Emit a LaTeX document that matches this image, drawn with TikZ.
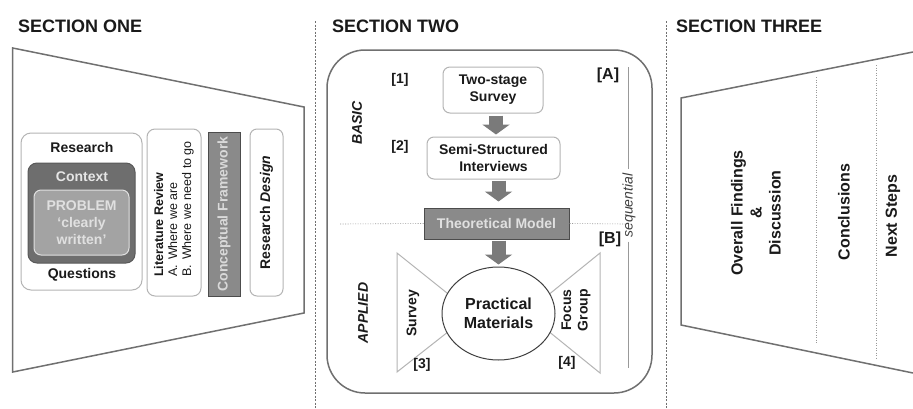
\documentclass[tikz,border=0pt]{standalone}
\usepackage{fontspec}
\setmainfont{Liberation Sans}
\usetikzlibrary{arrows.meta,shapes.geometric,calc}
\definecolor{edgegray}{HTML}{707070}
\definecolor{lightedge}{HTML}{B4B4B4}
\definecolor{txt}{HTML}{1A1A1A}
\definecolor{darkfill}{HTML}{6E6E6E}
\definecolor{midfill}{HTML}{8A8A8A}
\definecolor{probfill}{HTML}{A3A3A3}
\definecolor{arrowgray}{HTML}{7A7A7A}
\tikzset{
  title/.style={font=\fontsize{18}{21}\selectfont\bfseries, text=txt, inner sep=0pt, anchor=base west},
  bt/.style={font=\fontsize{14}{17}\selectfont\bfseries, text=txt, align=center, inner sep=0pt},
  bigt/.style={font=\fontsize{16}{19}\selectfont\bfseries, text=txt, align=center, inner sep=0pt},
  whitebox/.style={draw=lightedge, line width=1pt, fill=white, rounded corners=7pt, inner sep=0pt},
  graybox/.style={draw=black!70, line width=1pt, fill=midfill, inner sep=0pt},
  blockarrow/.style={draw=arrowgray, line width=14pt, -{Triangle[width=27pt,length=10pt]}},
  sep/.style={draw=edgegray, line width=0.8pt, dash pattern=on 2pt off 1.5pt},
  dots/.style={draw=gray!80, line width=0.6pt, dash pattern=on 1pt off 1.5pt},
  frame/.style={draw=edgegray, line width=1.5pt},
  tri/.style={draw=lightedge, line width=1pt},
}
\begin{document}
\begin{tikzpicture}[x=1pt,y=-1pt]
\useasboundingbox[fill=white] (0,0) rectangle (913,408);

% separators
\coordinate (s1t) at (315,21); \coordinate (s1b) at (315,408);
\coordinate (s2t) at (666,21); \coordinate (s2b) at (666,408);
\draw[sep] (s1t) -- (s1b);
\draw[sep] (s2t) -- (s2b);

% titles
\node[title] (t1) at (18,32) {SECTION ONE};
\node[title] (t2) at (332,32) {SECTION TWO};
\node[title] (t3) at (676,32) {SECTION THREE};

% ---------- SECTION ONE ----------
\draw[frame] (12.7,48) -- (304,107) -- (304,313) -- (12.7,372) -- cycle;

\node[whitebox, rounded corners=10pt, minimum width=121pt, minimum height=157pt] (rq) at (81.5,211.5) {};
\node[draw=black!65, fill=darkfill, line width=1pt, rounded corners=9pt, minimum width=107pt, minimum height=100pt, inner sep=0pt] (ctx) at (81.5,213) {};
\node[draw=white!88!black, fill=probfill, line width=1pt, rounded corners=7pt, minimum width=95pt, minimum height=65pt, inner sep=0pt,
      font=\fontsize{14}{17}\selectfont\bfseries, text=white!88!black, align=center] (prob) at (81.5,222.5) {PROBLEM\\`clearly\\written'};
\node[bt] (research) at (82,147) {Research};
\node[bt, text=white!90!black] (context) at (82,177) {Context};
\node[bt] (questions) at (82,275) {Questions};

\node[whitebox, rounded corners=8pt, minimum width=54pt, minimum height=167pt] (lit) at (174,212.5) {};
\node[rotate=90, anchor=west, align=left, inner sep=0pt, text=txt, font=\fontsize{12.5}{14}\selectfont] (littext) at (174,277)
  {\textbf{Literature Review}\\\makebox[1.35em][l]{A.}Where we are\\\makebox[1.35em][l]{B.}Where we need to go};

\node[graybox, rotate=90, minimum width=164pt, minimum height=32pt, font=\fontsize{14}{17}\selectfont\bfseries, text=white!85!black] (cf) at (224,214) {Conceptual Framework};
\node[whitebox, rotate=90, minimum width=167pt, minimum height=33pt, font=\fontsize{14}{17}\selectfont\bfseries, text=txt] (rd) at (266.5,212.5) {Research \textit{Design}};

% ---------- SECTION TWO ----------
\node[draw=edgegray, line width=1.5pt, rounded corners=38pt, minimum width=325pt, minimum height=343pt, inner sep=0pt] (box2) at (489.5,221.5) {};

% dotted divider
\coordinate (dl) at (340,224); \coordinate (dr) at (625,224);

\node[whitebox, minimum width=100pt, minimum height=46pt, bt] (ts) at (493,90) {Two-stage\\Survey};
\node[whitebox, minimum width=133pt, minimum height=42pt, bt] (ssi) at (493.5,158) {Semi-Structured\\Interviews};
\node[graybox, minimum width=145pt, minimum height=31pt, font=\fontsize{14}{17}\selectfont\bfseries, text=white!88!black] (tm) at (496.5,223.5) {Theoretical Model};
\draw[dots] (dl) -- (tm.west);
\draw[dots] (tm.east) -- (dr);

% triangles
\draw[tri] (397,253) -- (397,372) -- (472,313) -- cycle;
\draw[tri] (600,253) -- (600,373) -- (526,313) -- cycle;

\node[draw=black!75, line width=1pt, fill=white, ellipse, minimum width=113pt, minimum height=93pt, inner sep=0pt, bigt] (pm) at (498.5,313.5) {Practical\\Materials};

% block arrows
\draw[blockarrow, shorten <=2pt, shorten >=2pt] ([xshift=3pt]ts.south) -- ([xshift=3pt]ts.south |- ssi.north);
\draw[blockarrow, shorten <=1pt, shorten >=6pt] ([xshift=5pt]ssi.south) -- ([xshift=5pt]ssi.south |- tm.north);
\draw[blockarrow, shorten <=1pt, shorten >=2pt] ([xshift=2pt]tm.south) -- ([xshift=2pt]tm.south |- pm.north);

% labels
\node[bt] (l1) at (400,80) {[1]};
\node[bt] (l2) at (400,147) {[2]};
\node[bt] (l3) at (422,365) {[3]};
\node[bt] (l4) at (567,363) {[4]};
\node[bigt] (lA) at (608,75) {[A]};
\node[bigt] (lB) at (610,239) {[B]};
\node[bt, rotate=90, font=\fontsize{14}{17}\selectfont\bfseries\itshape] (basic) at (357,123) {BASIC};
\node[bt, rotate=90, font=\fontsize{14}{17}\selectfont\bfseries\itshape] (applied) at (363,313) {APPLIED};
\node[bt, rotate=90] (survey) at (413,313) {Survey};
\node[bt, rotate=90, font=\fontsize{14}{16.5}\selectfont\bfseries] (focus) at (576,310) {Focus\\Group};

% sequential
\node[rotate=90, inner sep=0pt, text=black!75, font=\fontsize{14}{17}\selectfont\itshape] (seq) at (629,205.5) {sequential};
\coordinate (seqtop) at (628,67); \coordinate (seqbot) at (628,368);
\draw[draw=gray!80, line width=0.8pt] (seqtop) -- ([yshift=4pt]seqtop |- seq.east);
\draw[draw=gray!80, line width=0.8pt] ([yshift=-4pt]seqbot |- seq.west) -- (seqbot);

% ---------- SECTION THREE ----------
\draw[frame] (913,52) -- (681,98) -- (681,325) -- (913,373);
\coordinate (d1t) at (816,77); \coordinate (d1b) at (816,343);
\coordinate (d2t) at (876,65); \coordinate (d2b) at (876,359);
\draw[dots] (d1t) -- (d1b);
\draw[dots] (d2t) -- (d2b);
\node[bigt, rotate=90] (ofd) at (756,213) {Overall Findings\\\&\\Discussion};
\node[bigt, rotate=90] (conc) at (844,212) {Conclusions};
\node[bigt, rotate=90] (next) at (893,216) {Next Steps};
\end{tikzpicture}
\end{document}
